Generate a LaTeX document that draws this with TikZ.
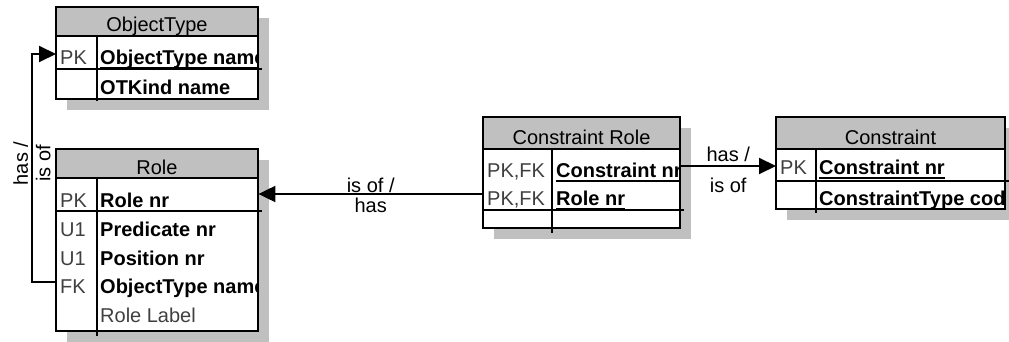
\documentclass[tikz,border=0pt]{standalone}
\usepackage{fontspec}
\setmainfont{Liberation Sans}
\usetikzlibrary{arrows.meta, shadows}

\definecolor{headgray}{RGB}{192,192,192}
\definecolor{keygray}{RGB}{64,64,64}
\newcommand{\pkfield}[1]{\sbox0{#1}\rlap{\rule[-4.5pt]{\wd0}{2pt}}\usebox0}

\begin{document}
\begin{tikzpicture}[x=1pt, y=-1pt, font=\fontsize{20}{24}\selectfont]
	\tikzstyle{tablebox}=[fill=white, anchor=north west, inner sep=0pt, drop shadow={shadow xshift=11pt, shadow yshift=-11pt, fill=headgray, opacity=1}]
	\tikzstyle{frameline}=[draw, line width=2pt]
	\tikzstyle{headtext}=[anchor=base, inner sep=0pt]
	\tikzstyle{keytext}=[anchor=base west, inner sep=0pt, text height=25pt, text depth=3pt, text=keygray]
	\tikzstyle{fieldtext}=[anchor=base west, inner sep=0pt, font=\fontsize{20}{24}\selectfont\bfseries]
	\tikzstyle{relation}=[draw, line width=2pt, -{Triangle[length=17pt, width=16pt]}]
	\tikzstyle{verbtext}=[inner sep=0pt]

	\useasboundingbox (0,0) rectangle (1009,342);

	% ObjectType
	\node[tablebox, minimum width=202pt, minimum height=92pt] (ot) at (56,7) {};
	\fill[headgray] (56,7) rectangle (258,36);
	\begin{scope}
		\clip (ot.north west) rectangle (ot.south east);
		\node[headtext] (ot-title) at (157,32) {ObjectType};
		\node[keytext] (ot-pk) at (60,65) {PK};
		\node[fieldtext] (ot-name) at (100,65) {\pkfield{ObjectType name}};
		\node[fieldtext] (ot-kind) at (100,95) {OTKind name};
	\end{scope}
	\draw[frameline] (ot.north west) rectangle (ot.south east);
	\draw[frameline] (56,36) -- (258,36) (56,69) -- (262,69) (97,36) -- (97,101);

	% Role
	\node[tablebox, minimum width=202pt, minimum height=182pt] (role) at (56,149) {};
	\fill[headgray] (56,149) rectangle (258,178);
	\begin{scope}
		\clip (role.north west) rectangle (role.south east);
		\node[headtext] (role-title) at (157,174) {Role};
		\node[keytext] (role-pk) at (60,207) {PK};
		\node[fieldtext] (role-nr) at (100,207) {\pkfield{Role nr}};
		\node[keytext] (role-u1a) at (60,236) {U1};
		\node[fieldtext] (role-pred) at (100,236) {Predicate nr};
		\node[keytext] (role-u1b) at (60,265) {U1};
		\node[fieldtext] (role-pos) at (100,265) {Position nr};
		\node[keytext] (role-fk) at (60,293) {FK};
		\node[fieldtext] (role-ot) at (100,293) {ObjectType name};
		\node[anchor=base west, inner sep=0pt, text=keygray] (role-label) at (100,322) {Role Label};
	\end{scope}
	\draw[frameline] (role.north west) rectangle (role.south east);
	\draw[frameline] (56,178) -- (258,178) (56,211) -- (262,211) (97,178) -- (97,336);

	% Constraint Role
	\node[tablebox, minimum width=197pt, minimum height=111pt] (cr) at (483,117) {};
	\fill[headgray] (483,117) rectangle (680,149);
	\begin{scope}
		\clip (cr.north west) rectangle (cr.south east);
		\node[headtext] (cr-title) at (581.5,145) {Constraint Role};
		\node[keytext] (cr-pk1) at (487,177) {PK,FK};
		\node[fieldtext] (cr-cnr) at (556,177) {\pkfield{Constraint nr}};
		\node[keytext] (cr-pk2) at (487,205) {PK,FK};
		\node[fieldtext] (cr-rnr) at (556,205) {\pkfield{Role nr}};
	\end{scope}
	\draw[frameline] (cr.north west) rectangle (cr.south east);
	\draw[frameline] (483,149) -- (680,149) (483,210) -- (684,210) (552,149) -- (552,233);

	% Constraint
	\node[tablebox, minimum width=229pt, minimum height=92pt] (con) at (776,117) {};
	\fill[headgray] (776,117) rectangle (1005,149);
	\begin{scope}
		\clip (con.north west) rectangle (con.south east);
		\node[headtext] (con-title) at (890.5,145) {Constraint};
		\node[keytext] (con-pk) at (780,175) {PK};
		\node[fieldtext] (con-nr) at (819,175) {\pkfield{Constraint nr}};
		\node[fieldtext] (con-type) at (819,205) {ConstraintType code};
	\end{scope}
	\draw[frameline] (con.north west) rectangle (con.south east);
	\draw[frameline] (776,149) -- (1005,149) (776,181) -- (1009,181) (816,149) -- (816,213);

	% relations
	\draw[relation] (cr.west |- cr-pk2) -- node[verbtext, above] (isof-a) {is of /} node[verbtext, below, inner sep=3pt] (has-a) {has} (role.east |- cr-pk2);
	\draw[relation] (cr.east |- cr-pk1) -- node[verbtext, above, inner sep=3pt] (has-b) {has /} node[verbtext, below, inner sep=11pt] (isof-b) {is of} (con.west |- cr-pk1);
	\draw[relation] (role.west |- role-fk) -- ++(-24,0) |- node[verbtext, pos=0.26, rotate=90, above, inner sep=3pt] (has-c) {has /} node[verbtext, pos=0.26, rotate=90, below, inner sep=3pt] (isof-c) {is of} (ot.west |- ot-pk);
\end{tikzpicture}
\end{document}
